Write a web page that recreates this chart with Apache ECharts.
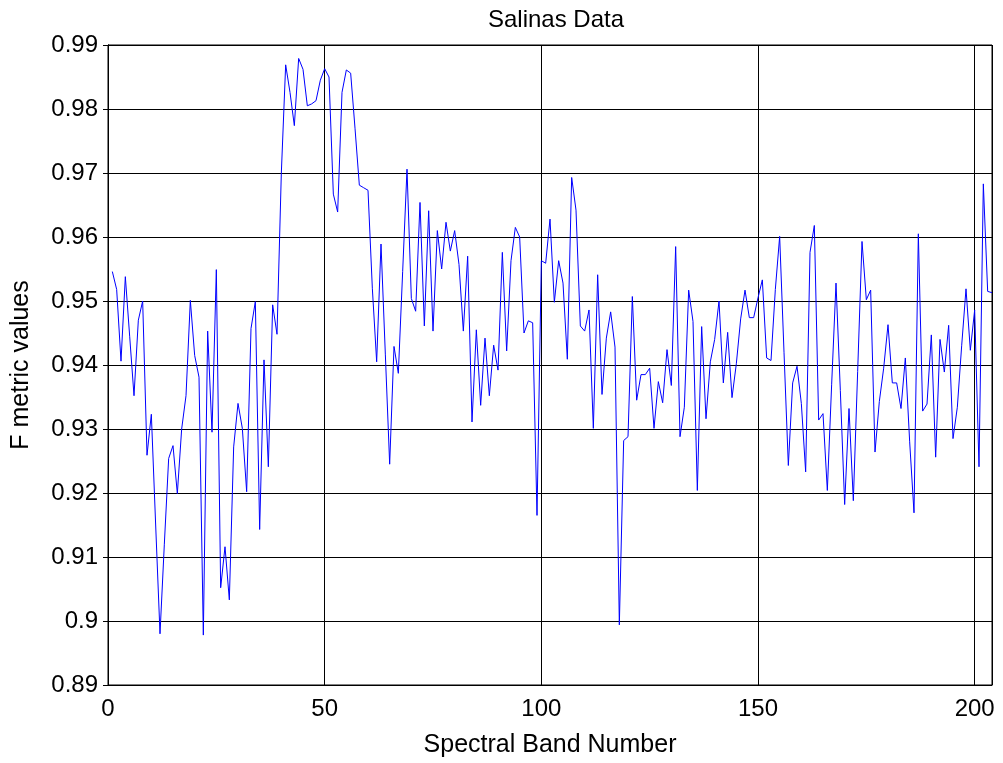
<!DOCTYPE html>
<html>
<head>
<meta charset="utf-8">
<script src="https://cdn.jsdelivr.net/npm/echarts@6/dist/echarts.min.js"></script>
<style>
	html, body { margin: 0; padding: 0; background: #fff; }
	#chart { width: 1003px; height: 763px; }
</style>
</head>
<body>
<div id="chart"></div>
<script>
// F metric per spectral band (bands 1..204)
var bands001_051 = [
	0.9546, 0.9518, 0.9406, 0.9538, 0.9445, 0.9352, 0.9470, 0.9500, 0.9259, 0.9323,
	0.9150, 0.8980, 0.9120, 0.9254, 0.9274, 0.9199, 0.9300, 0.9352, 0.9501, 0.9415,
	0.9381, 0.8978, 0.9453, 0.9295, 0.9549, 0.9052, 0.9116, 0.9033, 0.9272, 0.9340,
	0.9301, 0.9202, 0.9457, 0.9499, 0.9143, 0.9408, 0.9241, 0.9494, 0.9448, 0.9700,
	0.9869, 0.9826, 0.9774, 0.9879, 0.9862, 0.9805, 0.9808, 0.9813, 0.9845, 0.9863,
	0.9850
];
var bands052_102 = [
	0.9667, 0.9639, 0.9826, 0.9861, 0.9856, 0.9770, 0.9681, 0.9677, 0.9673, 0.9520,
	0.9405, 0.9589, 0.9417, 0.9245, 0.9429, 0.9387, 0.9546, 0.9706, 0.9504, 0.9484,
	0.9654, 0.9461, 0.9641, 0.9453, 0.9610, 0.9550, 0.9623, 0.9578, 0.9610, 0.9557,
	0.9453, 0.9570, 0.9311, 0.9455, 0.9337, 0.9442, 0.9352, 0.9431, 0.9392, 0.9576,
	0.9422, 0.9563, 0.9615, 0.9600, 0.9450, 0.9469, 0.9466, 0.9165, 0.9563, 0.9559,
	0.9628
];
var bands103_153 = [
	0.9498, 0.9563, 0.9528, 0.9409, 0.9693, 0.9642, 0.9461, 0.9453, 0.9486, 0.9301,
	0.9541, 0.9354, 0.9442, 0.9483, 0.9428, 0.8994, 0.9282, 0.9288, 0.9507, 0.9345,
	0.9385, 0.9385, 0.9395, 0.9301, 0.9374, 0.9341, 0.9424, 0.9368, 0.9585, 0.9288,
	0.9334, 0.9517, 0.9468, 0.9204, 0.9460, 0.9316, 0.9405, 0.9440, 0.9500, 0.9372,
	0.9451, 0.9349, 0.9402, 0.9472, 0.9517, 0.9474, 0.9474, 0.9505, 0.9533, 0.9411,
	0.9407
];
var bands154_204 = [
	0.9518, 0.9601, 0.9420, 0.9243, 0.9372, 0.9398, 0.9340, 0.9233, 0.9576, 0.9618,
	0.9314, 0.9324, 0.9204, 0.9370, 0.9528, 0.9360, 0.9182, 0.9332, 0.9188, 0.9390,
	0.9593, 0.9502, 0.9517, 0.9264, 0.9343, 0.9395, 0.9463, 0.9372, 0.9372, 0.9332,
	0.9411, 0.9280, 0.9169, 0.9605, 0.9328, 0.9339, 0.9447, 0.9256, 0.9440, 0.9389,
	0.9462, 0.9285, 0.9334, 0.9430, 0.9519, 0.9423, 0.9486, 0.9241, 0.9683, 0.9515,
	0.9513
];
var xTicks = [0, 50, 100, 150, 200];
var yTicks = [0.89, 0.90, 0.91, 0.92, 0.93, 0.94, 0.95, 0.96, 0.97, 0.98, 0.99];

var values = bands001_051.concat(bands052_102, bands103_153, bands154_204);
var points = values.map(function (v, i) { return [i + 1, v]; });

var font = '"Liberation Sans", Arial, Helvetica, sans-serif';
var myChart = echarts.init(document.getElementById('chart'), null, { renderer: 'canvas' });
var tickOpt = { show: true, inside: true, length: 5, lineStyle: { color: '#000', width: 1 } };

option = {
	backgroundColor: '#fff',
	animation: false,
	title: {
		text: 'Salinas Data',
		left: 551,
		textAlign: 'center',
		top: 3,
		textStyle: { fontFamily: font, fontSize: 24, fontWeight: 'normal', color: '#000' }
	},
	grid: {
		left: 108, right: 11, top: 45, bottom: 77,
		show: true, borderColor: '#000', borderWidth: 1, backgroundColor: 'transparent'
	},
	xAxis: [
		{
			type: 'value', min: 0, max: 204, interval: 50,
			name: 'Spectral Band Number', nameLocation: 'middle', nameGap: 48,
			nameTextStyle: { fontFamily: font, fontSize: 25, color: '#000' },
			axisLine: { show: true, lineStyle: { color: '#000' } },
			axisTick: tickOpt,
			axisLabel: {
				fontFamily: font, fontSize: 24, color: '#000', margin: 12,
				formatter: function (v) { return xTicks.indexOf(v) >= 0 ? String(v) : ''; }
			},
			splitLine: { show: true, lineStyle: { color: '#000', width: 1 } }
		},
		{
			type: 'value', min: 0, max: 204, interval: 50, position: 'top',
			axisLine: { show: true, lineStyle: { color: '#000' } },
			axisTick: tickOpt, axisLabel: { show: false }, splitLine: { show: false }
		}
	],
	yAxis: [
		{
			type: 'value', min: yTicks[0], max: yTicks[yTicks.length - 1], interval: 0.01,
			name: 'F metric values', nameLocation: 'middle', nameGap: 74, nameRotate: 90,
			nameTextStyle: { fontFamily: font, fontSize: 25, color: '#000' },
			axisLine: { show: true, lineStyle: { color: '#000' } },
			axisTick: tickOpt,
			axisLabel: { fontFamily: font, fontSize: 24, color: '#000', margin: 10 },
			splitLine: { show: true, lineStyle: { color: '#000', width: 1 } }
		},
		{
			type: 'value', min: yTicks[0], max: yTicks[yTicks.length - 1], interval: 0.01,
			position: 'right',
			axisLine: { show: true, lineStyle: { color: '#000' } },
			axisTick: tickOpt, axisLabel: { show: false }, splitLine: { show: false }
		}
	],
	series: [
		{
			name: 'F metric',
			type: 'line',
			data: points,
			showSymbol: false,
			lineStyle: { color: '#0000ff', width: 1 },
			itemStyle: { color: '#0000ff' }
		}
	]
};
myChart.setOption(option);
</script>
</body>
</html>
